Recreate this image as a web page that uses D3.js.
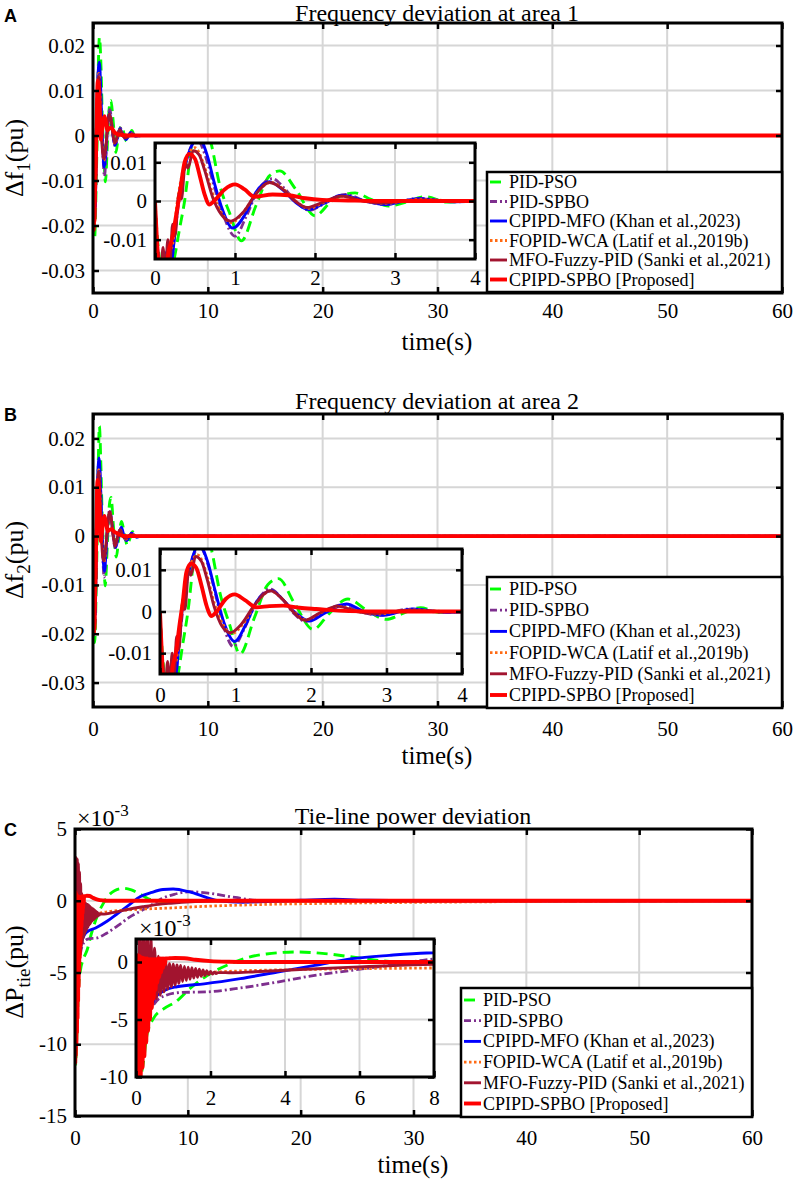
<!DOCTYPE html>
<html lang="en">
<head>
<meta charset="UTF-8">
<title>Frequency and tie-line deviations</title>
<style>
  body { margin: 0; background: #fff; }
  text { font-family: "Liberation Serif", "Times New Roman", serif; fill: #000; }
</style>
</head>
<body>
<script src="https://d3js.org/d3.v7.min.js"></script>
<script>
const width = 796, height = 1179;

const seriesNames = ["PID-PSO", "PID-SPBO", "CPIPD-MFO (Khan et al.,2023)", "FOPID-WCA (Latif et al.,2019b)",
  "MFO-Fuzzy-PID (Sanki et al.,2021)", "CPIPD-SPBO [Proposed]"];
const seriesColors = ["#00ff00", "#7e2f8e", "#0000ff", "#ff6a13", "#a2142f", "#ff0000"];
const seriesDash = ["11,6", "8,3,2,3", null, "2.5,2.5", null, null];
const seriesWidth = [2.9, 2.8, 2.9, 2.8, 2.9, 3.9];

// ticks
const mainTimeTicks = [0, 10, 20, 30, 40, 50, 60];
const insetTimeTicksF = [0, 1, 2, 3, 4];
const insetTimeTicksP = [0, 2, 4, 6, 8];
const freqTicks = [-0.03, -0.02, -0.01, 0, 0.01, 0.02];
const freqInsetTicks = [-0.01, 0, 0.01];
const tieTicks = [-15, -10, -5, 0, 5];
const tieInsetTicks = [-10, -5, 0];

// area 1 frequency deviation, [time s, pu]
const f1PSO = [[0,0],[0.04,-0.012],[0.15,-0.0225],[0.24,-0.015],[0.3,-0.008],[0.37,0],[0.47,0.016],[0.56,0.0218],[0.7,0.015],[0.81,0.004],[0.93,-0.003],[1.08,-0.0103],[1.26,-0.0013],[1.43,0.0065],[1.56,0.0078],[1.76,0.003],[2.0,-0.0038],[2.21,0],[2.5,0.0021],[2.7,0.0004],[2.92,-0.0013],[3.12,-0.0004],[3.38,0.0011],[3.65,-0.0003],[4,0],[60,0]];
const f1SPBO = [[0,0],[0.03,-0.013],[0.1,-0.02],[0.15,-0.014],[0.19,-0.018],[0.24,-0.01],[0.3,0],[0.4,0.011],[0.53,0.0158],[0.64,0.011],[0.75,0.003],[0.86,-0.004],[1.0,-0.0091],[1.14,-0.004],[1.28,0.0025],[1.47,0.0058],[1.62,0.0032],[1.77,-0.0003],[1.93,-0.0024],[2.13,-0.0005],[2.38,0.0017],[2.62,0.0001],[2.88,-0.0009],[3.3,0.0007],[3.75,-0.0002],[4.2,0],[60,0]];
const f1MFO = [[0,0],[0.03,-0.012],[0.1,-0.019],[0.15,-0.013],[0.2,-0.016],[0.25,-0.008],[0.29,0],[0.4,0.011],[0.55,0.0163],[0.65,0.012],[0.74,0.0048],[0.85,-0.0026],[0.97,-0.007],[1.14,-0.003],[1.26,0.0022],[1.43,0.005],[1.59,0.003],[1.76,-0.0004],[1.92,-0.0022],[2.13,-0.0004],[2.33,0.0015],[2.62,0],[2.87,-0.0009],[3.29,0.0006],[3.74,-0.0002],[4.2,0],[60,0]];
const f1WCA = [[0,0],[0.03,-0.013],[0.1,-0.02],[0.16,-0.013],[0.21,-0.012],[0.28,0],[0.38,0.01],[0.5,0.0138],[0.6,0.01],[0.72,0.002],[0.83,-0.003],[0.95,-0.0056],[1.1,-0.003],[1.25,0.0015],[1.45,0.0048],[1.62,0.0028],[1.76,0],[1.92,-0.0019],[2.12,-0.0003],[2.35,0.0012],[2.6,0],[2.86,-0.0006],[3.3,0.0004],[3.8,0],[60,0]];
const f1Fuzzy = [[0,0],[0.03,-0.014],[0.07,-0.02],[0.1,-0.012],[0.13,-0.019],[0.16,-0.01],[0.19,-0.015],[0.22,-0.006],[0.25,-0.009],[0.3,0.002],[0.33,0.0005],[0.38,0.01],[0.41,0.0085],[0.48,0.013],[0.55,0.012],[0.62,0.008],[0.72,0.001],[0.83,-0.0035],[0.95,-0.0052],[1.1,-0.003],[1.25,0.0015],[1.43,0.0048],[1.6,0.003],[1.75,0],[1.9,-0.0017],[2.1,-0.0003],[2.33,0.0013],[2.6,0],[2.85,-0.0005],[3.3,0.0003],[3.8,0],[60,0]];
const f1Proposed = [[0,0],[0.03,-0.012],[0.07,-0.021],[0.1,-0.015],[0.13,-0.019],[0.17,-0.013],[0.21,-0.01],[0.27,-0.003],[0.31,0.002],[0.37,0.01],[0.43,0.0122],[0.5,0.0109],[0.56,0.0065],[0.62,0.0017],[0.68,-0.0009],[0.74,0],[0.87,0.003],[1.0,0.0043],[1.12,0.003],[1.24,0.0011],[1.47,0.0017],[1.67,0.0015],[1.88,0.0007],[2.09,0.0003],[2.5,0.0001],[3,0],[60,0]];

// area 2 frequency deviation, [time s, pu]
const f2PSO = [[0,0],[0.04,-0.012],[0.15,-0.0218],[0.24,-0.015],[0.3,-0.008],[0.37,0],[0.47,0.016],[0.56,0.0225],[0.68,0.015],[0.8,0.004],[0.92,-0.003],[1.06,-0.0102],[1.25,-0.0015],[1.43,0.0065],[1.57,0.0079],[1.78,0.002],[2.03,-0.0043],[2.24,-0.0005],[2.49,0.003],[2.74,0.0003],[3.0,-0.0019],[3.2,-0.0006],[3.45,0.0009],[3.7,-0.0002],[4,0],[60,0]];
const f2SPBO = [[0,0],[0.03,-0.013],[0.1,-0.02],[0.15,-0.014],[0.19,-0.018],[0.24,-0.01],[0.3,0],[0.4,0.011],[0.53,0.0155],[0.64,0.011],[0.75,0.003],[0.85,-0.004],[0.97,-0.0084],[1.12,-0.004],[1.27,0.002],[1.46,0.0054],[1.62,0.003],[1.77,-0.0004],[1.93,-0.0024],[2.13,-0.0005],[2.4,0.0016],[2.64,0],[2.9,-0.0009],[3.3,0.0006],[3.75,-0.0002],[4.2,0],[60,0]];
const f2MFO = [[0,0],[0.03,-0.012],[0.1,-0.019],[0.15,-0.013],[0.2,-0.016],[0.25,-0.008],[0.29,0],[0.4,0.011],[0.52,0.016],[0.63,0.012],[0.73,0.005],[0.85,-0.0028],[0.99,-0.0072],[1.14,-0.003],[1.28,0.0024],[1.48,0.005],[1.62,0.003],[1.8,-0.0004],[1.98,-0.0023],[2.18,-0.0004],[2.47,0.0018],[2.7,0],[2.95,-0.0009],[3.35,0.0006],[3.8,-0.0002],[4.2,0],[60,0]];
const f2WCA = [[0,0],[0.03,-0.013],[0.1,-0.02],[0.16,-0.013],[0.21,-0.012],[0.28,0],[0.38,0.01],[0.5,0.0136],[0.6,0.01],[0.72,0.002],[0.83,-0.003],[0.95,-0.0053],[1.1,-0.003],[1.26,0.0015],[1.46,0.0049],[1.63,0.0028],[1.77,0],[1.93,-0.002],[2.13,-0.0003],[2.37,0.0012],[2.62,0],[2.88,-0.0006],[3.32,0.0004],[3.8,0],[60,0]];
const f2Fuzzy = [[0,0],[0.03,-0.014],[0.07,-0.02],[0.1,-0.012],[0.13,-0.019],[0.16,-0.01],[0.19,-0.015],[0.22,-0.006],[0.25,-0.009],[0.3,0.002],[0.33,0.0005],[0.38,0.01],[0.41,0.0087],[0.47,0.0132],[0.55,0.012],[0.62,0.008],[0.72,0.001],[0.82,-0.0035],[0.93,-0.0051],[1.08,-0.003],[1.25,0.0015],[1.46,0.005],[1.62,0.003],[1.76,0],[1.92,-0.0021],[2.12,-0.0003],[2.35,0.0013],[2.6,0],[2.86,-0.0005],[3.3,0.0003],[3.8,0],[60,0]];
const f2Proposed = [[0,0],[0.03,-0.012],[0.07,-0.02],[0.1,-0.015],[0.13,-0.019],[0.17,-0.013],[0.21,-0.01],[0.26,-0.003],[0.3,0.002],[0.35,0.0095],[0.41,0.0115],[0.48,0.0105],[0.55,0.0062],[0.62,0.0012],[0.68,-0.0011],[0.75,0],[0.87,0.003],[0.99,0.0041],[1.12,0.0028],[1.28,0.001],[1.45,0.0013],[1.63,0.0014],[1.85,0.0009],[2.07,0.0006],[2.5,0.0001],[3,0],[60,0]];

// tie-line power deviation, [time s, x1e-3 pu]
const tiePSO = [[0,0],[0.06,-11.4],[0.13,-10],[0.2,-8.7],[0.29,-6.4],[0.47,-4.9],[0.73,-4.1],[1.09,-3.4],[1.45,-2.3],[2.0,-1.0],[2.5,-0.2],[2.9,0.3],[3.5,0.7],[4.3,0.87],[5.0,0.75],[5.9,0.4],[6.8,0.05],[8,-0.05],[10,0],[60,0]];
const tieSPBO = [[0,0],[0.05,-10.8],[0.15,-7.8],[0.3,-5],[0.5,-3.6],[0.8,-2.9],[1.2,-2.65],[1.9,-2.6],[2.8,-2.26],[3.8,-1.74],[4.8,-1.16],[5.8,-0.72],[6.8,-0.29],[7.7,0.15],[8.8,0.45],[10.2,0.63],[11.8,0.53],[14.2,0.23],[16.3,0.02],[20,0],[60,0]];
const tieMFO = [[0,0],[0.05,-10.5],[0.15,-7.5],[0.3,-4.8],[0.5,-3.2],[0.75,-2.5],[1.1,-2.15],[1.83,-1.9],[2.8,-1.45],[3.8,-0.87],[4.8,-0.29],[5.8,0.29],[6.8,0.58],[7.8,0.78],[8.7,0.82],[10.3,0.58],[12.7,0],[14.8,-0.1],[17,-0.05],[20,0.03],[23,0.1],[26,0.03],[30,0],[60,0]];
const tieWCA = [[0,0],[0.05,-10],[0.15,-6],[0.3,-3.5],[0.6,-2],[1.0,-1.3],[1.5,-1.0],[2,-0.9],[3,-0.75],[4,-0.68],[5.9,-0.58],[8,-0.52],[11.8,-0.38],[14.8,-0.3],[17.7,-0.24],[23.6,-0.17],[29,-0.12],[35,-0.08],[45,-0.04],[60,-0.02]];
const tieFuzzy = [[0,0],[0.05,-9],[0.1,3.0],[0.15,-7.5],[0.2,2.9],[0.25,-6],[0.3,2.6],[0.35,-4.5],[0.4,2.0],[0.45,-3.6],[0.5,1.2],[0.55,-3.2],[0.6,0.5],[0.65,-2.9],[0.7,0.1],[0.75,-2.6],[0.8,-0.05],[0.85,-2.35],[0.9,-0.15],[0.95,-2.15],[1.0,-0.2],[1.05,-2.0],[1.1,-0.25],[1.15,-1.85],[1.2,-0.3],[1.25,-1.7],[1.3,-0.38],[1.35,-1.6],[1.4,-0.45],[1.45,-1.5],[1.5,-0.5],[1.55,-1.4],[1.6,-0.56],[1.65,-1.32],[1.7,-0.62],[1.75,-1.25],[1.8,-0.7],[1.85,-1.18],[1.9,-0.76],[1.95,-1.1],[2.0,-0.82],[2.05,-1.05],[2.1,-0.88],[2.15,-1.0],[2.2,-0.92],[2.6,-0.93],[3.2,-0.85],[4.4,-0.65],[6,-0.42],[7.4,-0.25],[8.5,-0.17],[10.3,-0.07],[12.5,-0.02],[15,0],[60,0]];
const tieProposed = [[0,0],[0.025,-11.3],[0.05,0.6],[0.075,-10.8],[0.1,0.5],[0.125,-10],[0.15,0.4],[0.175,-9.2],[0.2,0.35],[0.225,-8.2],[0.25,0.3],[0.275,-7],[0.3,0.3],[0.325,-6],[0.35,0.25],[0.375,-5],[0.4,0.25],[0.425,-4],[0.45,0.25],[0.475,-3.2],[0.5,0.25],[0.525,-2.4],[0.55,0.25],[0.575,-1.8],[0.6,0.3],[0.625,-1.3],[0.65,0.3],[0.675,-0.9],[0.7,0.3],[0.725,-0.5],[0.75,0.3],[0.775,-0.2],[0.8,0.3],[0.9,0.32],[1.05,0.35],[1.3,0.33],[1.6,0.2],[2,0.08],[2.5,0.02],[3,0],[60,0]];

const f1Data = [f1PSO, f1SPBO, f1MFO, f1WCA, f1Fuzzy, f1Proposed];
const f2Data = [f2PSO, f2SPBO, f2MFO, f2WCA, f2Fuzzy, f2Proposed];
const tieData = [tiePSO, tieSPBO, tieMFO, tieWCA, tieFuzzy, tieProposed];

const svg = d3.select("body").append("svg")
  .attr("width", width)
  .attr("height", height);

let clipCount = 0;

function drawAxes(box, xDom, yDom, xTicks, yTicks, data, xPad) {
  const x = d3.scaleLinear().domain(xDom).range([box.l, box.r]);
  const y = d3.scaleLinear().domain(yDom).range([box.b, box.t]);
  const g = svg.append("g");
  const clipId = "clip" + clipCount++;
  g.append("clipPath").attr("id", clipId).append("rect")
    .attr("x", box.l).attr("y", box.t)
    .attr("width", box.r - box.l).attr("height", box.b - box.t);

  g.append("rect")
    .attr("x", box.l).attr("y", box.t)
    .attr("width", box.r - box.l).attr("height", box.b - box.t)
    .attr("fill", "#fff");

  // grid
  g.append("g").selectAll("line").data(xTicks).join("line")
    .attr("x1", d => x(d)).attr("x2", d => x(d))
    .attr("y1", box.t).attr("y2", box.b)
    .attr("stroke", "#d6d6d6").attr("stroke-width", 2);
  g.append("g").selectAll("line").data(yTicks).join("line")
    .attr("y1", d => y(d)).attr("y2", d => y(d))
    .attr("x1", box.l).attr("x2", box.r)
    .attr("stroke", "#d6d6d6").attr("stroke-width", 2);

  const line = d3.line()
    .x(d => x(d[0]))
    .y(d => y(d[1]))
    .curve(d3.curveMonotoneX);

  g.append("g").attr("clip-path", `url(#${clipId})`)
    .selectAll("path").data(data).join("path")
    .attr("d", line)
    .attr("fill", "none")
    .attr("stroke", (d, i) => seriesColors[i])
    .attr("stroke-width", (d, i) => seriesWidth[i])
    .attr("stroke-dasharray", (d, i) => seriesDash[i])
    .attr("stroke-linejoin", "round");

  g.append("rect")
    .attr("x", box.l).attr("y", box.t)
    .attr("width", box.r - box.l).attr("height", box.b - box.t)
    .attr("fill", "none").attr("stroke", "#000").attr("stroke-width", 3);

  const tk = 6;
  g.append("g").attr("transform", `translate(0,${box.b})`)
    .call(d3.axisBottom(x).tickValues(xTicks).tickSize(-tk).tickPadding(xPad).tickFormat(String));
  g.append("g").attr("transform", `translate(0,${box.t})`)
    .call(d3.axisTop(x).tickValues(xTicks).tickSize(-tk).tickFormat(() => ""));
  g.append("g").attr("transform", `translate(${box.l},0)`)
    .call(d3.axisLeft(y).tickValues(yTicks).tickSize(-tk).tickPadding(8).tickFormat(String));
  g.append("g").attr("transform", `translate(${box.r},0)`)
    .call(d3.axisRight(y).tickValues(yTicks).tickSize(-tk).tickFormat(() => ""));
  g.selectAll(".domain").remove();
  g.selectAll(".tick line").attr("stroke", "#000").attr("stroke-width", 2.5);
  g.selectAll(".tick text").style("font-size", "21px");
  return g;
}

function drawLegend(box, y0, step) {
  const g = svg.append("g");
  g.append("rect")
    .attr("x", box.l).attr("y", box.t)
    .attr("width", box.r - box.l).attr("height", box.b - box.t)
    .attr("fill", "#fff").attr("stroke", "#000").attr("stroke-width", 2.5);
  const rows = g.selectAll("g.row").data(seriesNames).join("g")
    .attr("class", "row")
    .attr("transform", (d, i) => `translate(${box.l},${y0 + i * step})`);
  rows.append("line")
    .attr("x1", 3).attr("x2", 20)
    .attr("stroke", (d, i) => seriesColors[i])
    .attr("stroke-width", (d, i) => seriesWidth[i])
    .attr("stroke-dasharray", (d, i) => seriesDash[i] ? (i === 1 ? "7,3,2,3" : seriesDash[i]) : null);
  rows.append("text")
    .attr("x", 22).attr("y", 6)
    .style("font-size", "18px")
    .text(d => d);
}

function yLabel(cx, cy, main, sub) {
  const t = svg.append("text")
    .attr("transform", `translate(${cx},${cy}) rotate(-90)`)
    .attr("text-anchor", "middle")
    .style("font-size", "26px");
  t.append("tspan").text(main);
  t.append("tspan").attr("dy", 7).style("font-size", "19px").text(sub);
  t.append("tspan").attr("dy", -7).text("(pu)");
}

function textAt(x, y, s, size, anchor) {
  return svg.append("text").attr("x", x).attr("y", y)
    .attr("text-anchor", anchor || "middle")
    .style("font-size", size + "px").text(s);
}

function letter(x, y, s) {
  svg.append("text").attr("x", x).attr("y", y).text(s)
    .style("font-family", "'Liberation Sans', Arial, sans-serif")
    .style("font-weight", "bold").style("font-size", "18px");
}

function timesTen(x, y) {
  const t = svg.append("text").attr("x", x).attr("y", y).style("font-size", "24px");
  t.append("tspan").text("\u00d710");
  t.append("tspan").attr("dy", -10).style("font-size", "17px").text("-3");
}

// ---- panel A
const boxA = {l: 93, t: 23, r: 782, b: 293};
drawAxes(boxA, [0, 60], [-0.035, 0.025], mainTimeTicks, freqTicks, f1Data, 10);
drawAxes({l: 155, t: 143, r: 475, b: 259}, [0, 4], [-0.015, 0.015], insetTimeTicksF, freqInsetTicks, f1Data, 11);
drawLegend({l: 487, t: 172, r: 782, b: 292}, 182, 19.5);
letter(4, 22, "A");
textAt(437, 21, "Frequency deviation at area 1", 24);
textAt(437, 350, "time(s)", 25);
yLabel(23, 158, "\u0394f", "1");

// ---- panel B
const boxB = {l: 93, t: 414, r: 782, b: 707};
drawAxes(boxB, [0, 60], [-0.035, 0.025], mainTimeTicks, freqTicks, f2Data, 14);
drawAxes({l: 160, t: 549, r: 462, b: 674}, [0, 4], [-0.015, 0.015], insetTimeTicksF, freqInsetTicks, f2Data, 13);
drawLegend({l: 487, t: 577, r: 782, b: 708}, 589, 21.2);
letter(4, 421, "B");
textAt(437, 409, "Frequency deviation at area 2", 24);
textAt(437, 764, "time(s)", 25);
yLabel(23, 560, "\u0394f", "2");

// ---- panel C
const boxC = {l: 75, t: 829, r: 752, b: 1116};
drawAxes(boxC, [0, 60], [-15, 5], mainTimeTicks, tieTicks, tieData, 14);
timesTen(77, 826);
drawAxes({l: 136, t: 939, r: 434, b: 1077}, [0, 8], [-10, 2], insetTimeTicksP, tieInsetTicks, tieData, 13);
timesTen(139, 936);
drawLegend({l: 461, t: 988, r: 752, b: 1117}, 1000, 20.7);
letter(4, 836, "C");
textAt(413, 824, "Tie-line power deviation", 24);
textAt(413, 1173, "time(s)", 25);
yLabel(23, 972, "\u0394P", "tie");
</script>
</body>
</html>
